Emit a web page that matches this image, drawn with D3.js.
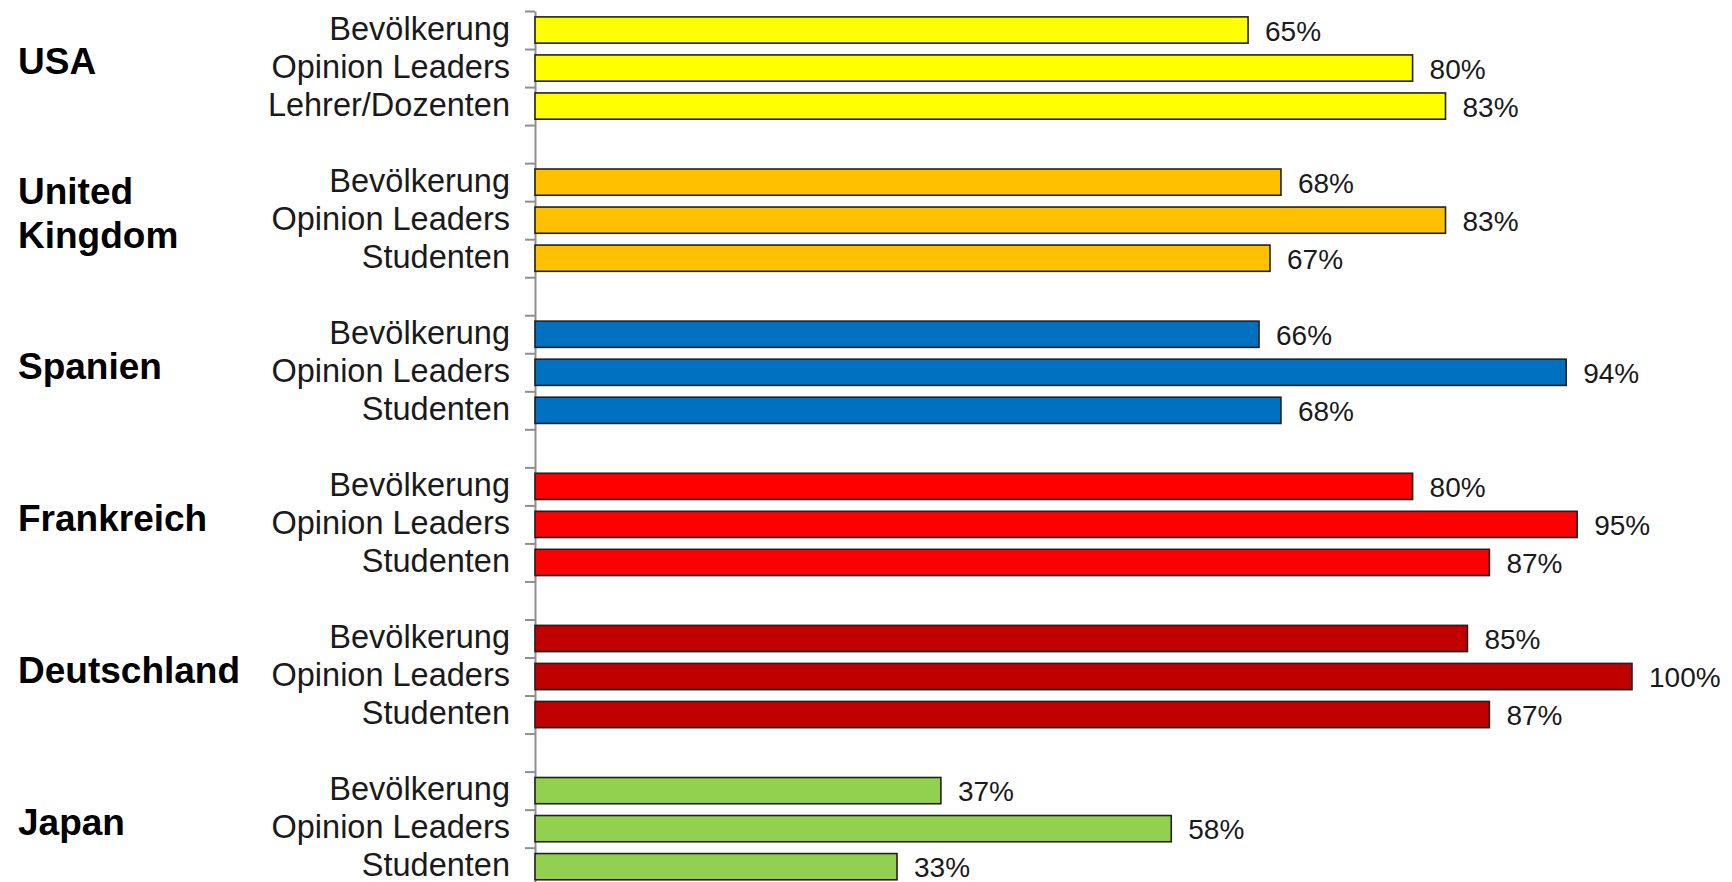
<!DOCTYPE html>
<html>
<head>
<meta charset="utf-8">
<script src="https://cdn.jsdelivr.net/npm/d3@7"></script>
<style>
  html, body { margin: 0; padding: 0; background: #fff; overflow: hidden; }
  svg { display: block; font-family: 'Liberation Sans', Arial, sans-serif; }
</style>
</head>
<body>
<div id="chart"></div>
<script>
// data
const groups = ['USA', 'United Kingdom', 'Spanien', 'Frankreich', 'Deutschland', 'Japan'];
const groupLines = [['USA'], ['United', 'Kingdom'], ['Spanien'], ['Frankreich'], ['Deutschland'], ['Japan']];
const segments = [
  ['Bevölkerung', 'Opinion Leaders', 'Lehrer/Dozenten'],
  ['Bevölkerung', 'Opinion Leaders', 'Studenten'],
  ['Bevölkerung', 'Opinion Leaders', 'Studenten'],
  ['Bevölkerung', 'Opinion Leaders', 'Studenten'],
  ['Bevölkerung', 'Opinion Leaders', 'Studenten'],
  ['Bevölkerung', 'Opinion Leaders', 'Studenten']
];
const values = [
  [65, 80, 83],
  [68, 83, 67],
  [66, 94, 68],
  [80, 95, 87],
  [85, 100, 87],
  [37, 58, 33]
];
const colors = ['#ffff00', '#ffc000', '#0070c0', '#ff0000', '#c00000', '#92d050'];

const width = 1732;
const height = 882;
const topY = 11;
const step = 38.03;

// one row per bar plus an empty row after each country
const rows = [];
groups.forEach((g, gi) => {
  segments[gi].forEach((s, si) => {
    rows.push({ key: g + '|' + si, group: gi, label: s, value: values[gi][si] });
  });
  rows.push({ key: g + '|gap', group: gi, label: null, value: null });
});

const y = d3.scaleBand()
  .domain(rows.map((d) => d.key))
  .range([topY, topY + rows.length * step])
  .paddingInner(0.31)
  .paddingOuter(0.155);

const yIdx = d3.scaleLinear()
  .domain([0, rows.length])
  .range([topY, topY + rows.length * step]);

const x = d3.scaleLinear().domain([0, 100]).range([535, 1632]);

const svg = d3.select('#chart')
  .append('svg')
  .attr('width', width)
  .attr('height', height);

// axis with ticks between rows
const axis = svg.append('g')
  .attr('transform', `translate(${x(0)},0)`)
  .call(d3.axisLeft(yIdx)
    .tickValues(d3.range(0, rows.length + 1))
    .tickFormat('')
    .tickSizeInner(10)
    .tickSizeOuter(0));
axis.selectAll('path, line')
  .attr('stroke', '#8f8f8f')
  .attr('stroke-width', 2);

const bars = rows.filter((d) => d.value !== null);

svg.selectAll('.bar')
  .data(bars)
  .enter()
  .append('rect')
  .attr('class', 'bar')
  .attr('x', x(0))
  .attr('y', (d) => y(d.key))
  .attr('width', (d) => x(d.value) - x(0))
  .attr('height', y.bandwidth())
  .attr('fill', (d) => colors[d.group])
  .attr('stroke', '#222')
  .attr('stroke-width', 1.6);

svg.selectAll('.cat')
  .data(bars)
  .enter()
  .append('text')
  .attr('class', 'cat')
  .attr('x', x(0) - 25)
  .attr('y', (d) => y(d.key) + y.bandwidth() / 2)
  .attr('dy', '0.3em')
  .attr('text-anchor', 'end')
  .style('font-size', '32.5px')
  .attr('fill', '#1a1a1a')
  .text((d) => d.label);

svg.selectAll('.val')
  .data(bars)
  .enter()
  .append('text')
  .attr('class', 'val')
  .attr('x', (d) => x(d.value) + 17)
  .attr('y', (d) => y(d.key) + y.bandwidth() / 2)
  .attr('dy', '0.38em')
  .style('font-size', '28px')
  .attr('fill', '#1a1a1a')
  .text((d) => d.value + '%');

// country labels, centred a little above the middle bar
const lineH = 44;
groups.forEach((g, gi) => {
  const mid = y(g + '|1') + y.bandwidth() / 2 - 7;
  const lines = groupLines[gi];
  const t = svg.append('text')
    .attr('y', mid - ((lines.length - 1) * lineH) / 2)
    .style('font-size', '37px')
    .style('font-weight', 'bold')
    .attr('fill', '#000');
  lines.forEach((l, li) => {
    t.append('tspan')
      .attr('x', 18)
      .attr('dy', li === 0 ? '0.36em' : lineH)
      .text(l);
  });
});
</script>
</body>
</html>
